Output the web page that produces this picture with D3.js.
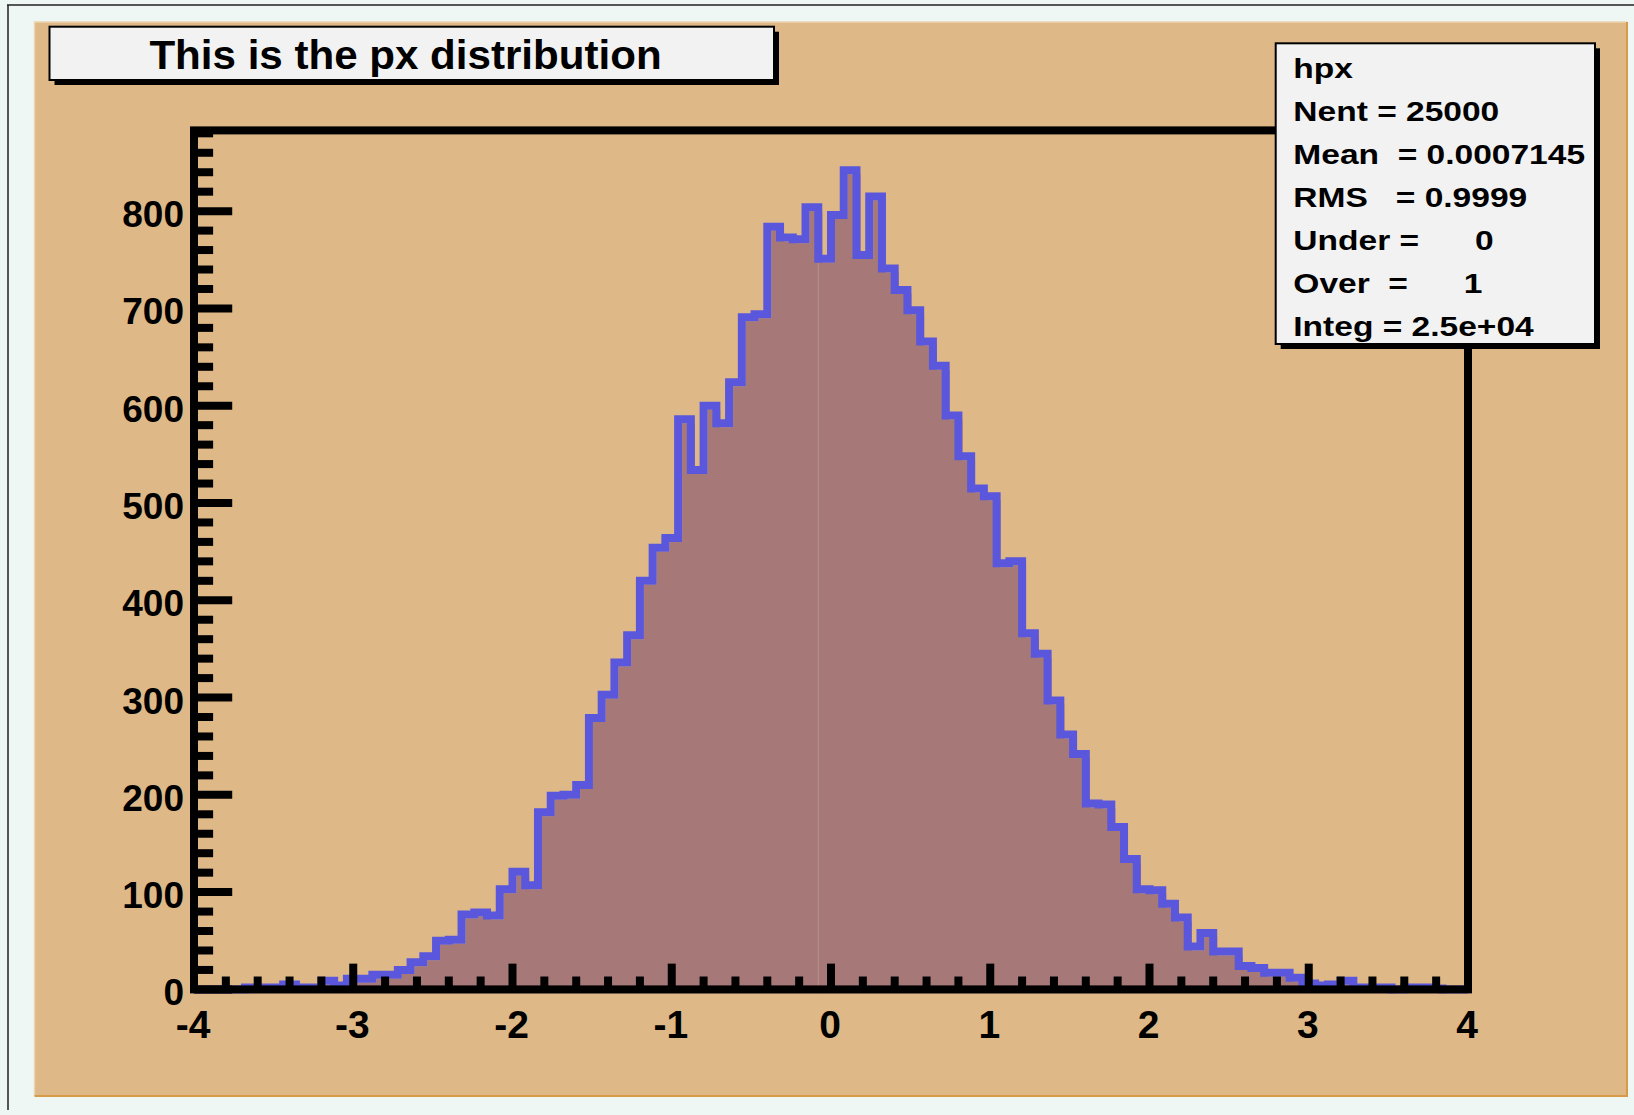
<!DOCTYPE html>
<html>
<head>
<meta charset="utf-8">
<script src="https://cdn.jsdelivr.net/npm/d3@7"></script>
<style>
html, body { margin: 0; padding: 0; background: #eff7f5; }
svg { display: block; }
text { font-family: "Liberation Sans", Arial, Helvetica, sans-serif; font-weight: bold; fill: #000; }
</style>
</head>
<body>
<svg id="canvas" width="1634" height="1115"></svg>
<script>
// hpx : 100 bins between -4 and 4
const binLow = -4;
const binHigh = 4;
const binCounts = [
	0, 0, 0, 0, 2, 2, 2, 5, 2, 2,
	9, 4, 11, 11, 15, 15, 20, 28, 34, 50,
	51, 77, 79, 76, 103, 121, 107, 182, 199, 200,
	210, 279, 303, 336, 364, 420, 454, 464, 586, 534,
	600, 582, 624, 691, 694, 784, 773, 771, 804, 751,
	796, 842, 755, 815, 741, 719, 698, 666, 641, 590,
	548, 515, 507, 438, 440, 366, 345, 297, 262, 242,
	191, 190, 167, 134, 103, 102, 88, 74, 44, 58,
	39, 39, 24, 22, 17, 17, 12, 6, 4, 5,
	9, 2, 2, 2, 0, 2, 2, 1, 0, 0
];
const yMax = 883;
const xTickValues = [-4, -3, -2, -1, 0, 1, 2, 3, 4];
const yTickValues = [0, 100, 200, 300, 400, 500, 600, 700, 800];
const titleText = "This is the px distribution";
const statsLines = [
	"hpx",
	"Nent = 25000",
	"Mean  = 0.0007145",
	"RMS   = 0.9999",
	"Under =      0",
	"Over  =      1",
	"Integ = 2.5e+04"
];

const W = 1634, H = 1115;
const pad = { x0: 34.5, y0: 22, x1: 1627, y1: 1096 };
const frame = { x0: 198, x1: 1472, y0: 134.4, y1: 993.4 };
const lw = 8;          // thick ROOT lines
const off = -lw / 2;   // lines sit up/left of their coordinate

const svg = d3.select("#canvas");

// canvas window edge
svg.append("line").attr("x1", 8).attr("x2", 8).attr("y1", 5).attr("y2", 1110)
	.attr("stroke", "#222").attr("stroke-width", 1.5);
svg.append("line").attr("x1", 7).attr("x2", W).attr("y1", 5).attr("y2", 5)
	.attr("stroke", "#222").attr("stroke-width", 1.5);

// pad
svg.append("rect")
	.attr("x", pad.x0).attr("y", pad.y0)
	.attr("width", pad.x1 - pad.x0).attr("height", pad.y1 - pad.y0)
	.attr("fill", "#deb887");
svg.append("path")
	.attr("d", `M${pad.x0},${pad.y1} V${pad.y0} H${pad.x1}`)
	.attr("fill", "none").attr("stroke", "#ecd4b0").attr("stroke-width", 1.5);
svg.append("path")
	.attr("d", `M${pad.x0},${pad.y1} H${pad.x1} V${pad.y0}`)
	.attr("fill", "none").attr("stroke", "#d69a48").attr("stroke-width", 2);

const x = d3.scaleLinear().domain([binLow, binHigh]).range([frame.x0, frame.x1]);
const y = d3.scaleLinear().domain([0, yMax]).range([frame.y1, frame.y0]);

// histogram steps
const binWidth = (binHigh - binLow) / binCounts.length;
const steps = [];
binCounts.forEach((c, i) => {
	const lo = binLow + i * binWidth;
	steps.push([lo, c], [lo + binWidth, c]);
});

const area = d3.area().x(d => x(d[0])).y0(y(0)).y1(d => y(d[1]));
svg.append("path")
	.attr("d", area(steps))
	.attr("fill", "#a67978");

// faint seam in the fill
const seamBin = 49;
svg.append("line")
	.attr("x1", x(binLow + seamBin * binWidth) + off).attr("x2", x(binLow + seamBin * binWidth) + off)
	.attr("y1", y(0)).attr("y2", y(Math.min(binCounts[seamBin - 1], binCounts[seamBin])))
	.attr("stroke", "#b58c86").attr("stroke-width", 1.2);

const outline = [[binLow, 0], ...steps, [binHigh, 0]];
const line = d3.line().x(d => x(d[0])).y(d => y(d[1]));
svg.append("path")
	.attr("d", line(outline))
	.attr("transform", `translate(${off},${off})`)
	.attr("fill", "none")
	.attr("stroke", "#5a57dc")
	.attr("stroke-width", lw)
	.attr("stroke-linejoin", "miter");

// frame + axes
const axes = svg.append("g")
	.attr("transform", `translate(${off},${off})`)
	.attr("stroke", "#000")
	.attr("stroke-width", lw)
	.attr("fill", "none");

axes.append("rect")
	.attr("x", frame.x0).attr("y", frame.y0)
	.attr("width", frame.x1 - frame.x0).attr("height", frame.y1 - frame.y0);

const yMajorLen = 0.03 * (frame.x1 - frame.x0);
const xMajorLen = 0.03 * (frame.y1 - frame.y0);

const yMinor = d3.range(0, yMax, 20);
axes.selectAll("line.ytick")
	.data(yMinor)
	.join("line")
	.attr("class", "ytick")
	.attr("x1", frame.x0)
	.attr("x2", d => frame.x0 + (d % 100 === 0 ? yMajorLen : yMajorLen / 2))
	.attr("y1", d => y(d)).attr("y2", d => y(d));

const xMinor = d3.range(0, 41).map(i => binLow + i * 0.2);
axes.selectAll("line.xtick")
	.data(xMinor)
	.join("line")
	.attr("class", "xtick")
	.attr("x1", d => x(d)).attr("x2", d => x(d))
	.attr("y1", frame.y1)
	.attr("y2", (d, i) => frame.y1 - (i % 5 === 0 ? xMajorLen : xMajorLen / 2));

// tick labels
svg.append("g")
	.selectAll("text")
	.data(yTickValues)
	.join("text")
	.attr("x", frame.x0 - 14)
	.attr("y", d => y(d) + 12)
	.attr("text-anchor", "end")
	.style("font-size", "37px")
	.text(d => d);

svg.append("g")
	.selectAll("text")
	.data(xTickValues)
	.join("text")
	.attr("x", d => x(d) - 5)
	.attr("y", 1038.3)
	.attr("text-anchor", "middle")
	.style("font-size", "39px")
	.text(d => d);

// title box
const tb = { x0: 49.5, y0: 26.7, x1: 774, y1: 80 };
svg.append("rect")
	.attr("x", tb.x0 + 5).attr("y", tb.y0 + 5)
	.attr("width", tb.x1 - tb.x0).attr("height", tb.y1 - tb.y0)
	.attr("fill", "#000");
svg.append("rect")
	.attr("x", tb.x0).attr("y", tb.y0)
	.attr("width", tb.x1 - tb.x0).attr("height", tb.y1 - tb.y0)
	.attr("fill", "#f2f2f2").attr("stroke", "#000").attr("stroke-width", 2);
svg.append("text")
	.attr("transform", `translate(405.5,69.3) scale(1.04,1)`)
	.attr("text-anchor", "middle")
	.style("font-size", "40.5px")
	.text(titleText);

// stats box
const sb = { x0: 1275.7, y0: 43.3, x1: 1595, y1: 344 };
svg.append("rect")
	.attr("x", sb.x0 + 5).attr("y", sb.y0 + 5)
	.attr("width", sb.x1 - sb.x0).attr("height", sb.y1 - sb.y0)
	.attr("fill", "#000");
svg.append("rect")
	.attr("x", sb.x0).attr("y", sb.y0)
	.attr("width", sb.x1 - sb.x0).attr("height", sb.y1 - sb.y0)
	.attr("fill", "#f2f2f2").attr("stroke", "#000").attr("stroke-width", 2);
svg.append("g")
	.selectAll("text")
	.data(statsLines)
	.join("text")
	.attr("transform", (d, i) => `translate(1293.3,${78.2 + i * 43}) scale(1.22,1)`)
	.style("font-size", "27.5px")
	.style("white-space", "pre")
	.text(d => d);
</script>
</body>
</html>
